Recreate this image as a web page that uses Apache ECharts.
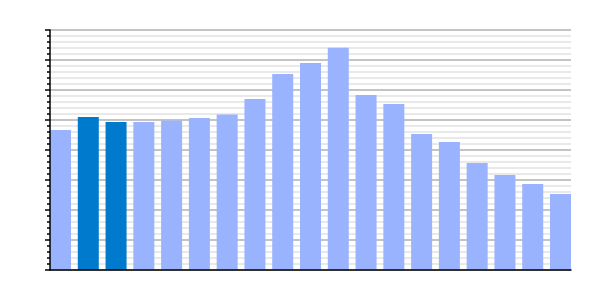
<!DOCTYPE html>
<html>
<head>
<meta charset="utf-8">
<script src="https://cdn.jsdelivr.net/npm/echarts@6/dist/echarts.min.js"></script>
<style>html,body{margin:0;padding:0;background:#fff}#c{width:600px;height:300px}</style>
</head>
<body>
<div id="c"></div>
<script>
var values = [4.67, 5.10, 4.93, 4.93, 4.98, 5.07, 5.18, 5.70, 6.53, 6.90, 7.41, 5.83, 5.53, 4.53, 4.27, 3.57, 3.17, 2.87, 2.53];
var highlighted = [1, 2];
var baseColor = '#99b3ff';
var highlightColor = '#007acc';

var chart = echarts.init(document.getElementById('c'), null, {renderer: 'canvas'});
var data = values.map(function (v, i) {
  return {
    value: [i, v],
    itemStyle: {color: highlighted.indexOf(i) >= 0 ? highlightColor : baseColor}
  };
});
chart.setOption({
  animation: false,
  backgroundColor: '#ffffff',
  grid: {left: 50, right: 29, top: 30, bottom: 30, containLabel: false},
  xAxis: {
    type: 'value',
    min: -0.378,
    max: values.length - 1 + 0.378,
    axisLine: {show: true, onZero: false, lineStyle: {color: '#000', width: 1.5}},
    axisTick: {show: false},
    axisLabel: {show: false},
    splitLine: {show: false},
    z: 10
  },
  yAxis: [{
    type: 'value',
    min: 0,
    max: 8,
    interval: 1,
    axisLine: {show: false},
    axisTick: {show: false},
    axisLabel: {show: false},
    splitLine: {show: true, lineStyle: {color: '#b0b0b0', width: 1.5}},
    minorTick: {show: false, splitNumber: 5},
    minorSplitLine: {show: true, lineStyle: {color: '#e2e2e2', width: 1.5}}
  }, {
    type: 'value',
    position: 'left',
    min: 0,
    max: 8,
    interval: 1,
    axisLine: {show: true, onZero: false, lineStyle: {color: '#000', width: 1.5}},
    axisTick: {show: true, length: 5, lineStyle: {color: '#000', width: 1.5}},
    minorTick: {show: true, splitNumber: 5, length: 3, lineStyle: {color: '#000', width: 1.5}},
    axisLabel: {show: false},
    splitLine: {show: false},
    z: 10
  }],
  series: [{
    type: 'bar',
    barWidth: 21,
    yAxisIndex: 0,
    data: data
  }]
});
</script>
</body>
</html>
